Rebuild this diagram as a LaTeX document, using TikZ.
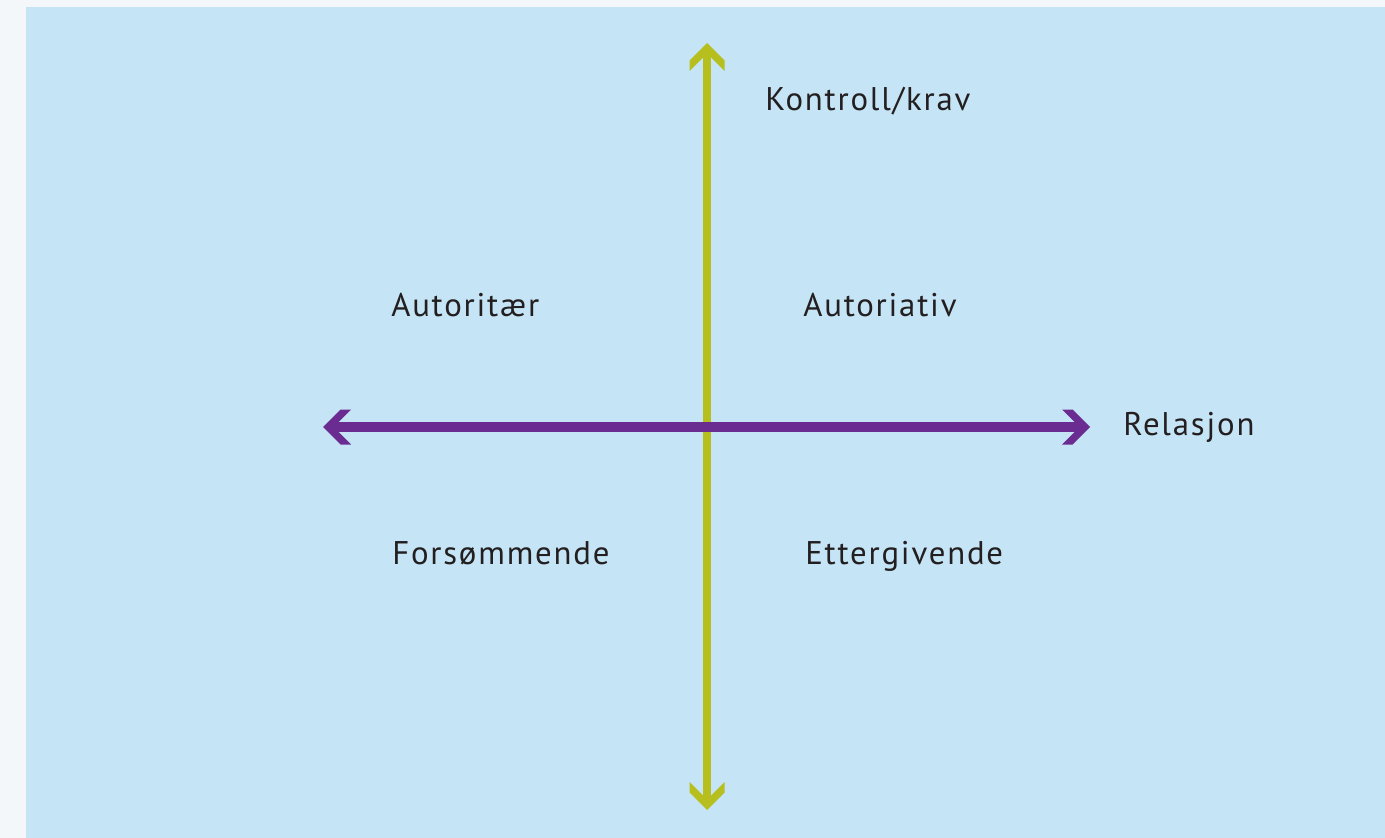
\documentclass[tikz,border=0pt]{standalone}
\usepackage{fontspec}
\setmainfont[LetterSpace=5.5]{PT Sans}
\definecolor{pagebg}{HTML}{F3F7F9}
\definecolor{panelbg}{HTML}{C5E4F5}
\definecolor{olive}{HTML}{B6BF1E}
\definecolor{axispurple}{HTML}{6A2C91}
\definecolor{labeltext}{HTML}{231F20}
\begin{document}
\begin{tikzpicture}[x=0.75pt,y=-0.75pt,
  lbl/.style={anchor=base west,inner sep=0pt,text=labeltext,font=\fontsize{24.6}{28}\selectfont},
  vaxis/.style={draw=olive,line width=6.4pt},
  haxis/.style={draw=axispurple,line width=7pt},
  ]
\useasboundingbox (0,0) rectangle (1385,838);
\fill[pagebg] (0,0) rectangle (1385,838);
\fill[panelbg] (26,7) rectangle (1385,838);
% vertical axis
\coordinate (vtop) at (707,53);
\coordinate (vbot) at (707,800);
\draw[vaxis] (vtop) -- (vbot);
\fill[olive] (707,43) -- (724.5,60.5) -- (724.5,71) -- (707,53.5) -- (689.5,71) -- (689.5,60.5) -- cycle;
\fill[olive] (707,810) -- (724.5,792.5) -- (724.5,782) -- (707,799.5) -- (689.5,782) -- (689.5,792.5) -- cycle;
% horizontal axis
\coordinate (hleft) at (333,427);
\coordinate (hright) at (1080,427);
\draw[haxis] (hleft) -- (hright);
\fill[axispurple] (323,427) -- (340.5,409.5) -- (351,409.5) -- (333.5,427) -- (351,444.5) -- (340.5,444.5) -- cycle;
\fill[axispurple] (1090,427) -- (1072.5,409.5) -- (1062,409.5) -- (1079.5,427) -- (1062,444.5) -- (1072.5,444.5) -- cycle;
% labels
\node[lbl] (kontroll) at (765,111) {Kontroll/krav};
\node[lbl] (autoritaer) at (391,316) {Autoritær};
\node[lbl] (autoriativ) at (803,316) {Autoriativ};
\node[lbl] (relasjon) at (1123,435) {Relasjon};
\node[lbl] (forsommende) at (392,564) {Forsømmende};
\node[lbl] (ettergivende) at (805,564) {Ettergivende};
\end{tikzpicture}
\end{document}
